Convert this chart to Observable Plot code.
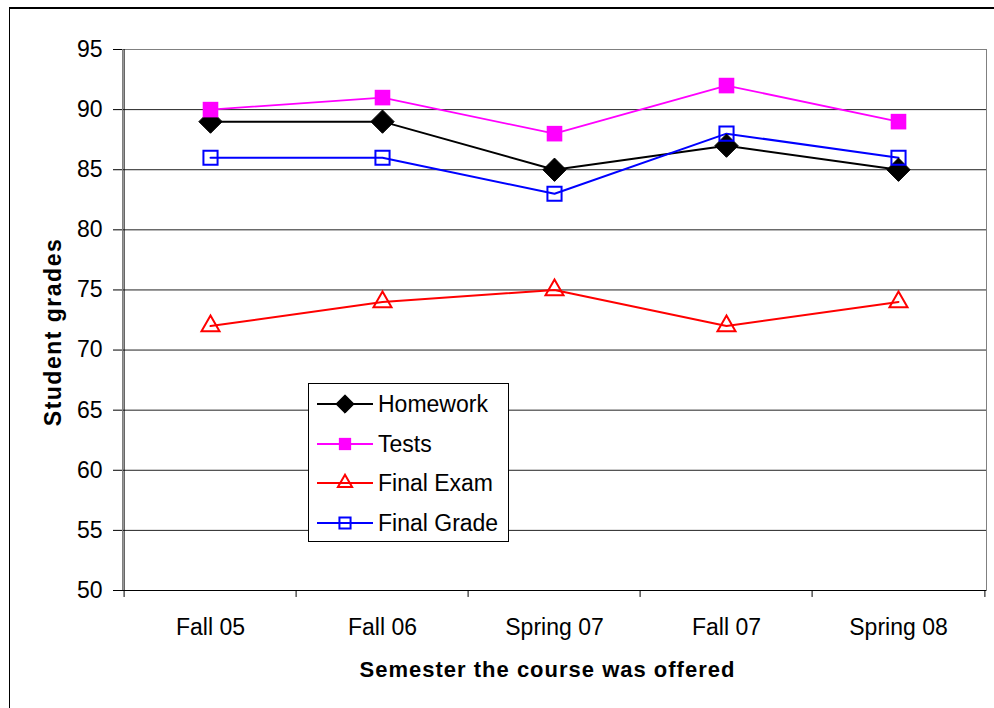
<!DOCTYPE html>
<html>
<head>
<meta charset="utf-8">
<script src="https://cdn.jsdelivr.net/npm/d3@7"></script>
<script src="https://cdn.jsdelivr.net/npm/@observablehq/plot@0.6"></script>
<style>
  body { margin: 0; background: #fff; font-family: "Liberation Sans", Arial, sans-serif; }
  #wrap { position: relative; width: 994px; height: 708px; overflow: hidden; background: #fff; }
  #wrap svg { position: absolute; left: 0; top: 0; }
  #border { position: absolute; left: 9px; top: 7px; width: 1100px; height: 800px; border-top: 2px solid #000; border-left: 1px solid #000; }
  #legend { position: absolute; left: 308px; top: 383px; width: 199px; height: 157px; border: 1px solid #000; background: #fff; }
  .item { position: absolute; left: 8px; height: 24px; display: flex; align-items: center; font-size: 23px; color: #000; white-space: nowrap; }
  .item svg { position: static !important; margin-right: 5px; }
</style>
</head>
<body>
<div id="wrap">
  <div id="border"></div>
</div>
<script>
// ---- data ----
const categories = ["Fall 05", "Fall 06", "Spring 07", "Fall 07", "Spring 08"];
const homework   = [89, 89, 85, 87, 85];
const tests      = [90, 91, 88, 92, 89];
const finalExam  = [72, 74, 75, 72, 74];
const finalGrade = [86, 86, 83, 88, 86];
const seriesNames = ["Homework", "Tests", "Final Exam", "Final Grade"];
const yTicks = [50, 55, 60, 65, 70, 75, 80, 85, 90, 95];
const yTitle = "Student grades";
const xTitle = "Semester the course was offered";

// ---- styles ----
const seriesValues = [homework, tests, finalExam, finalGrade];
const styles = [
  {color: "#000000", symbol: "diamond2", fill: "#000000", r: 10.5, sw: 1, lw: 2},
  {color: "#FF00FF", symbol: "square", fill: "#FF00FF", r: 8.8, sw: 0, lw: 1.8},
  {color: "#FF0000", symbol: "triangle2", fill: "none", r: 8.6, sw: 2, lw: 2},
  {color: "#0000FF", symbol: "square2", fill: "none", r: 9, sw: 2, lw: 2}
];

const W = 994, H = 708, ML = 122, MR = 8, MT = 49, MB = 118;
const half = (W - ML - MR) / categories.length / 2;

const marks = [
  Plot.gridY(yTicks, {stroke: "#222", strokeOpacity: 1}),
  Plot.frame({stroke: "#808080"}),
  Plot.ruleY([50], {stroke: "#000"}),
  Plot.ruleX([categories[0]], {x: d => d, dx: -half, stroke: "#000"}),
  Plot.ruleX(categories, {x: d => d, y1: 50, y2: 49.42, dx: -half, stroke: "#000"}),
  Plot.ruleX([categories[categories.length - 1]], {x: d => d, y1: 50, y2: 49.42, dx: half, stroke: "#000"}),
  Plot.axisY(yTicks, {tickSize: 9, tickPadding: 11, label: null, fontSize: 23, stroke: "#000"}),
  Plot.axisX({tickSize: 0, tickPadding: 28, label: null, fontSize: 23}),
  Plot.text([yTitle], {frameAnchor: "left", textAnchor: "middle", dx: -69, dy: 12, rotate: -90, fontWeight: "bold", fontSize: 23, fill: "#000"}),
  Plot.text([xTitle], {frameAnchor: "bottom", textAnchor: "middle", dx: -7, dy: 86, fontWeight: "bold", fontSize: 22, fill: "#000"})
];

seriesNames.forEach((name, k) => {
  const rows = categories.map((c, i) => ({cat: c, value: seriesValues[k][i], series: name}));
  const s = styles[k];
  marks.push(Plot.line(rows, {x: "cat", y: "value", stroke: s.color, strokeWidth: s.lw}));
});
seriesNames.forEach((name, k) => {
  const rows = categories.map((c, i) => ({cat: c, value: seriesValues[k][i], series: name}));
  const s = styles[k];
  marks.push(Plot.dot(rows, {x: "cat", y: "value", symbol: s.symbol, r: s.r, fill: s.fill, stroke: s.color, strokeWidth: s.sw}));
});

const chart = Plot.plot({
  width: W, height: H,
  marginLeft: ML, marginRight: MR, marginTop: MT, marginBottom: MB,
  style: {fontFamily: "'Liberation Sans', Arial, sans-serif", fontSize: "23px", background: "transparent", color: "#000"},
  x: {type: "point", domain: categories, padding: 0.5},
  y: {domain: [50, 95]},
  marks
});

d3.select(chart).selectAll("text").each(function() {
  const t = this.textContent;
  if (t === yTitle) d3.select(this).attr("letter-spacing", "1.5px");
  if (t === xTitle) d3.select(this).attr("letter-spacing", "1px");
});

const wrap = document.getElementById("wrap");
wrap.insertBefore(chart, wrap.firstChild);

// ---- legend ----
const legend = document.createElement("div");
legend.id = "legend";
const centers = [20, 60, 99, 139];
const symMap = {diamond2: d3.symbolDiamond2, square: d3.symbolSquare, triangle2: d3.symbolTriangle2, square2: d3.symbolSquare2};
seriesNames.forEach((name, k) => {
  const s = styles[k];
  const item = document.createElement("div");
  item.className = "item";
  item.style.top = (centers[k] - 12) + "px";
  const sv = d3.create("svg").attr("width", 56).attr("height", 24);
  sv.append("line").attr("x1", 0).attr("x2", 56).attr("y1", 12).attr("y2", 12)
    .attr("stroke", s.color).attr("stroke-width", s.lw);
  sv.append("path").attr("transform", "translate(28,12)")
    .attr("d", d3.symbol(symMap[s.symbol], Math.PI * s.r * s.r * 0.62)())
    .attr("fill", s.fill).attr("stroke", s.color).attr("stroke-width", s.sw);
  item.appendChild(sv.node());
  const span = document.createElement("span");
  span.textContent = name;
  item.appendChild(span);
  legend.appendChild(item);
});
wrap.appendChild(legend);
</script>
</body>
</html>
